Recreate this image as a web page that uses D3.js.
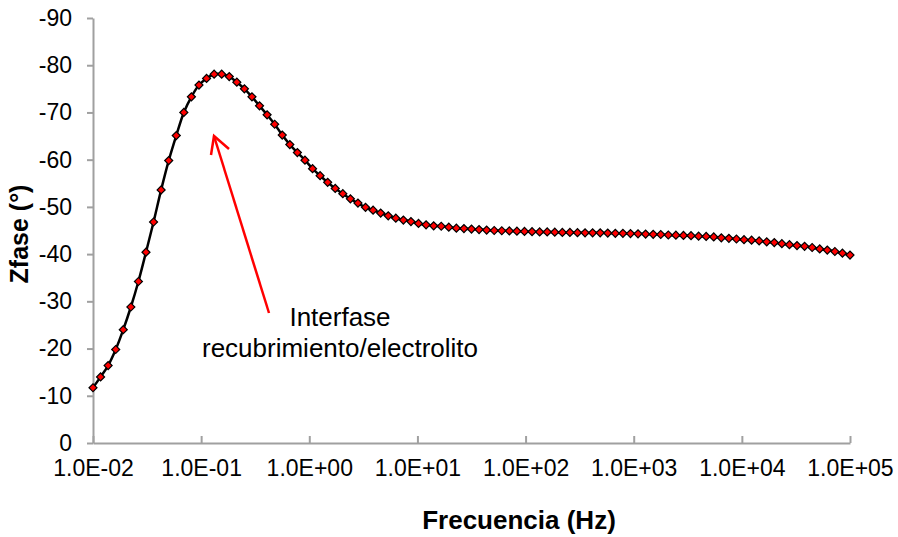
<!DOCTYPE html>
<html>
<head>
<meta charset="utf-8">
<script src="https://cdn.jsdelivr.net/npm/d3@7"></script>
<style>
  body { margin: 0; background: #fff; }
  svg { display: block; font-family: 'Liberation Sans', Arial, sans-serif; }
  .axis path, .axis line { stroke: #a0a0a0; stroke-width: 2; }
  .axis text { fill: #000; font-size: 23px; }
</style>
</head>
<body>
<div id="chart"></div>
<script>
const freq = [
  1.000e-2, 1.175e-2, 1.380e-2, 1.622e-2, 1.905e-2, 2.239e-2, 2.630e-2, 3.090e-2, 3.631e-2, 4.266e-2,
  5.012e-2, 5.888e-2, 6.918e-2, 8.128e-2, 9.550e-2, 1.122e-1, 1.318e-1, 1.549e-1, 1.820e-1, 2.138e-1,
  2.512e-1, 2.951e-1, 3.467e-1, 4.074e-1, 4.786e-1, 5.623e-1, 6.607e-1, 7.762e-1, 9.120e-1, 1.072e0,
  1.259e0, 1.479e0, 1.738e0, 2.042e0, 2.399e0, 2.818e0, 3.311e0, 3.890e0, 4.571e0, 5.370e0,
  6.310e0, 7.413e0, 8.710e0, 1.023e1, 1.202e1, 1.413e1, 1.660e1, 1.950e1, 2.291e1, 2.692e1,
  3.162e1, 3.715e1, 4.365e1, 5.129e1, 6.026e1, 7.079e1, 8.318e1, 9.772e1, 1.148e2, 1.349e2,
  1.585e2, 1.862e2, 2.188e2, 2.570e2, 3.020e2, 3.548e2, 4.169e2, 4.898e2, 5.754e2, 6.761e2,
  7.943e2, 9.333e2, 1.096e3, 1.288e3, 1.514e3, 1.778e3, 2.089e3, 2.455e3, 2.884e3, 3.388e3,
  3.981e3, 4.677e3, 5.495e3, 6.457e3, 7.586e3, 8.913e3, 1.047e4, 1.230e4, 1.445e4, 1.698e4,
  1.995e4, 2.344e4, 2.754e4, 3.236e4, 3.802e4, 4.467e4, 5.248e4, 6.166e4, 7.244e4, 8.511e4,
  1.000e5
]

const zfase = [
  -11.7, -14.0, -16.4, -19.8, -24.0, -28.8, -34.2, -40.4, -46.8, -53.6,
  -59.8, -65.1, -70.0, -73.3, -75.8, -77.2, -78.1, -78.1, -77.6, -76.4,
  -75.0, -73.3, -71.4, -69.5, -67.5, -65.2, -63.2, -61.5, -59.9, -58.1,
  -56.6, -55.2, -53.9, -52.8, -51.7, -50.8, -49.9, -49.3, -48.7, -48.1,
  -47.6, -47.2, -46.9, -46.5, -46.2, -46.0, -45.9, -45.7, -45.5, -45.4,
  -45.3, -45.2, -45.1, -45.0, -44.95, -44.9, -44.85, -44.8, -44.75, -44.7,
  -44.7, -44.65, -44.6, -44.6, -44.55, -44.5, -44.5, -44.5, -44.45, -44.4,
  -44.4, -44.35, -44.3, -44.25, -44.2, -44.15, -44.05, -44.0, -43.95, -43.9,
  -43.8, -43.75, -43.65, -43.45, -43.35, -43.2, -43.05, -42.95, -42.8, -42.6,
  -42.45, -42.2, -42.0, -41.8, -41.65, -41.4, -41.1, -40.85, -40.55, -40.2,
  -39.8
]

const xTicks = [1e-2, 1e-1, 1e0, 1e1, 1e2, 1e3, 1e4, 1e5]
const xTickLabels = ['1.0E-02', '1.0E-01', '1.0E+00', '1.0E+01', '1.0E+02', '1.0E+03', '1.0E+04', '1.0E+05']
const yTicks = [0, -10, -20, -30, -40, -50, -60, -70, -80, -90]

const width = 898
const height = 537
const plot = { left: 93, right: 850, top: 18, bottom: 443 }

const svg = d3.select('#chart')
  .append('svg')
  .attr('width', width)
  .attr('height', height)

const x = d3.scaleLog()
  .domain([1e-2, 1e5])
  .range([plot.left, plot.right])

const y = d3.scaleLinear()
  .domain([0, -90])
  .range([plot.bottom, plot.top])

// ── AXES ─────────────────────────────────────────────────────
svg.append('g')
  .attr('class', 'axis')
  .attr('transform', `translate(0, ${plot.bottom})`)
  .call(d3.axisBottom(x)
    .tickValues(xTicks)
    .tickFormat((d, i) => xTickLabels[i])
    .tickSizeInner(-7)
    .tickSizeOuter(0)
    .tickPadding(17))

svg.append('g')
  .attr('class', 'axis')
  .attr('transform', `translate(${plot.left}, 0)`)
  .call(d3.axisLeft(y)
    .tickValues(yTicks)
    .tickFormat(d => String(d))
    .tickSizeInner(6)
    .tickSizeOuter(0)
    .tickPadding(15))

// axis titles
svg.append('text')
  .attr('x', 519)
  .attr('y', 529)
  .attr('text-anchor', 'middle')
  .attr('font-weight', 'bold')
  .attr('font-size', 26)
  .text('Frecuencia (Hz)')

svg.append('text')
  .attr('transform', 'translate(28, 234) rotate(-90)')
  .attr('text-anchor', 'middle')
  .attr('font-weight', 'bold')
  .attr('font-size', 25)
  .text('Zfase (°)')

// ── CURVE + MARKERS ─────────────────────────────────────────
const points = freq.map((f, i) => ({ f, z: zfase[i] }))

const line = d3.line()
  .x(d => x(d.f))
  .y(d => y(d.z))
  .curve(d3.curveCatmullRom)

svg.append('path')
  .datum(points)
  .attr('d', line)
  .attr('fill', 'none')
  .attr('stroke', '#000')
  .attr('stroke-width', 2.5)

const diamond = d3.symbol().type(d3.symbolSquare).size(32)

svg.append('g')
  .selectAll('path')
  .data(points)
  .join('path')
  .attr('d', diamond)
  .attr('transform', d => `translate(${x(d.f)}, ${y(d.z)}) rotate(45)`)
  .attr('fill', '#ff0000')
  .attr('stroke', '#000')
  .attr('stroke-width', 1.2)

// ── ANNOTATION ──────────────────────────────────────────────
const arrow = svg.append('g')
  .attr('stroke', '#ff0000')
  .attr('stroke-width', 2.5)
  .attr('fill', 'none')

arrow.append('line')
  .attr('x1', 269).attr('y1', 313)
  .attr('x2', 214).attr('y2', 136)

arrow.append('path')
  .attr('d', 'M211,155 L214,136 L229,149')

const note = svg.append('text')
  .attr('text-anchor', 'middle')
  .attr('font-size', 26)
  .attr('fill', '#000')

note.append('tspan')
  .attr('x', 340).attr('y', 326)
  .text('Interfase')

note.append('tspan')
  .attr('x', 340).attr('y', 357)
  .text('recubrimiento/electrolito')
</script>
</body>
</html>
